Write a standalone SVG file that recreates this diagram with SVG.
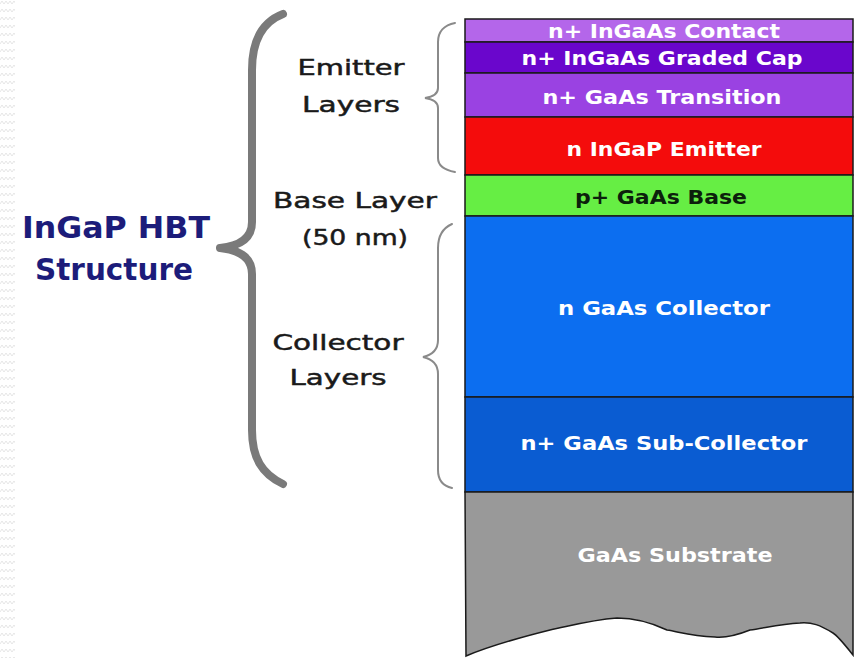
<svg xmlns="http://www.w3.org/2000/svg" width="855" height="658" viewBox="0 0 855 658">
  <style>
    .lbl { font-family: "DejaVu Sans", Verdana, sans-serif; font-size: 22px; fill: #1a1a1a; stroke: #1a1a1a; stroke-width: 0.5; text-anchor: middle; }
    .title { font-family: "DejaVu Sans", Verdana, sans-serif; font-weight: bold; font-size: 30px; fill: #1c1c7a; text-anchor: middle; }
    .layer { stroke: #1a1a1a; stroke-width: 1.5; }
    .ltxt { font-family: "DejaVu Sans", Verdana, sans-serif; font-weight: bold; font-size: 19px; fill: #ffffff; text-anchor: middle; }
    .brace-big { fill: none; stroke: #7a7a7a; stroke-width: 8; stroke-linecap: round; stroke-linejoin: round; }
    .brace-sm { fill: none; stroke: #8a8a8a; stroke-width: 2; stroke-linecap: round; }
  </style>
  <defs>
    <pattern id="zigzag" x="0" y="0" width="8" height="8" patternUnits="userSpaceOnUse">
      <polyline points="0,4 2,1 4,4 6,1 8,4" fill="none" stroke="#e6e6e6" stroke-width="1"/>
    </pattern>
  </defs>

  <rect x="0" y="0" width="855" height="658" fill="#ffffff"/>
  <rect x="0" y="0" width="15" height="658" fill="url(#zigzag)"/>

  <!-- title -->
  <g id="title">
    <text class="title" x="116" y="238" textLength="188" lengthAdjust="spacingAndGlyphs">InGaP HBT</text>
    <text class="title" x="114" y="280" textLength="158" lengthAdjust="spacingAndGlyphs">Structure</text>
  </g>

  <!-- braces -->
  <g id="braces">
    <path class="brace-big" d="M283,14 C262,22 252,40 252,70 L252,222 C252,238 240,246 220,248 C240,250 252,258 252,274 L252,430 C252,458 262,474 283,484"/>
    <path class="brace-sm" d="M455,23 C444,25 438,32 438,42 L438,88 C438,94 432,97 425,98 C432,99 438,102 438,108 L438,158 C438,166 444,170 455,172"/>
    <path class="brace-sm" d="M452,224 C443,228 438,236 438,248 L438,340 C438,350 432,355 423,357 C432,359 438,364 438,374 L438,470 C438,480 443,486 452,488"/>
  </g>

  <!-- group labels -->
  <g id="labels">
    <text class="lbl" x="351" y="75" textLength="107" lengthAdjust="spacingAndGlyphs">Emitter</text>
    <text class="lbl" x="351" y="112" textLength="98" lengthAdjust="spacingAndGlyphs">Layers</text>
    <text class="lbl" x="355" y="208" textLength="164" lengthAdjust="spacingAndGlyphs">Base Layer</text>
    <text class="lbl" x="355" y="245" textLength="106" lengthAdjust="spacingAndGlyphs">(50 nm)</text>
    <text class="lbl" x="338" y="350" textLength="131" lengthAdjust="spacingAndGlyphs">Collector</text>
    <text class="lbl" x="338" y="385" textLength="97" lengthAdjust="spacingAndGlyphs">Layers</text>
  </g>

  <!-- layer stack -->
  <g id="contact">
    <rect class="layer" x="465" y="19" width="388" height="23" fill="#b466ea"/>
    <text class="ltxt" x="664" y="38" font-size="17" textLength="232" lengthAdjust="spacingAndGlyphs">n+ InGaAs Contact</text>
  </g>
  <g id="graded-cap">
    <rect class="layer" x="465" y="42" width="388" height="31" fill="#6a06cc"/>
    <text class="ltxt" x="662" y="65" textLength="281" lengthAdjust="spacingAndGlyphs">n+ InGaAs Graded Cap</text>
  </g>
  <g id="transition">
    <rect class="layer" x="465" y="73" width="388" height="44" fill="#9a42e2"/>
    <text class="ltxt" x="662" y="104" textLength="239" lengthAdjust="spacingAndGlyphs">n+ GaAs Transition</text>
  </g>
  <g id="emitter">
    <rect class="layer" x="465" y="117" width="388" height="58" fill="#f40c0c"/>
    <text class="ltxt" x="664" y="156" textLength="195" lengthAdjust="spacingAndGlyphs">n InGaP Emitter</text>
  </g>
  <g id="base">
    <rect class="layer" x="465" y="175" width="388" height="41" fill="#66ee44"/>
    <text class="ltxt" x="661" y="204" style="fill:#0c200c" textLength="172" lengthAdjust="spacingAndGlyphs">p+ GaAs Base</text>
  </g>
  <g id="collector">
    <rect class="layer" x="465" y="216" width="388" height="181" fill="#0c6ef0"/>
    <text class="ltxt" x="664" y="315" textLength="212" lengthAdjust="spacingAndGlyphs">n GaAs Collector</text>
  </g>
  <g id="sub-collector">
    <rect class="layer" x="465" y="397" width="388" height="95" fill="#0a5cd2"/>
    <text class="ltxt" x="664" y="450" textLength="287" lengthAdjust="spacingAndGlyphs">n+ GaAs Sub-Collector</text>
  </g>
  <g id="substrate">
    <path class="layer" fill="#999999" d="M465,492 L853,492 L853,655 C845,645 838,636 833,633 C820,625 812,622 800,623 C780,624 765,628 750,630 C735,636 725,638 715,637 C690,636 680,632 667,630 C650,622 635,618 617,618 C590,620 570,626 550,630 C510,640 485,648 466,656 Z"/>
    <text class="ltxt" x="675" y="562" textLength="195" lengthAdjust="spacingAndGlyphs">GaAs Substrate</text>
  </g>
</svg>
